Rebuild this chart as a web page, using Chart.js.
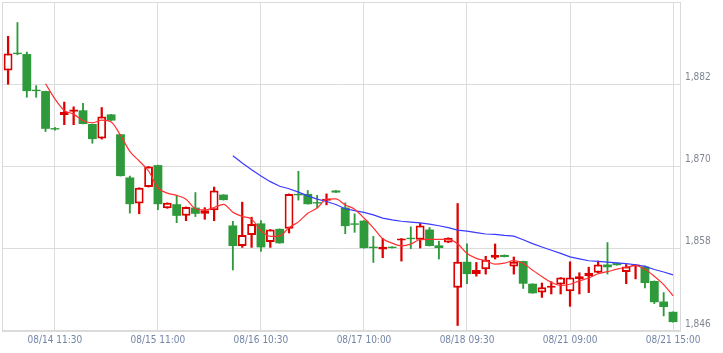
<!DOCTYPE html>
<html>
<head>
<meta charset="utf-8">
<script src="https://cdn.jsdelivr.net/npm/chart.js@4.4.1/dist/chart.umd.min.js"></script>
<style>
  html, body { margin: 0; padding: 0; background: #fff; }
</style>
</head>
<body>
<canvas id="stockChart" width="723" height="353"></canvas>
<script>
// 30分足 (6営業日 x 12本)
const days = ['08/14', '08/15', '08/16', '08/17', '08/18', '08/21'];
const slots = ['09:00', '09:30', '10:00', '10:30', '11:00', '11:30', '12:30', '13:00', '13:30', '14:00', '14:30', '15:00'];
const tickLabels = ['08/14 11:30', '08/15 11:00', '08/16 10:30', '08/17 10:00', '08/18 09:30', '08/21 09:00', '08/21 15:00'];
const yTicks = [1846, 1858, 1870, 1882, 1894];

const opens = [1884.0, 1886.6, 1886.4, 1881.2, 1881.0, 1875.6, 1877.5, 1878.0, 1878.2, 1876.2, 1874.1, 1877.6,
  1874.7, 1868.4, 1864.6, 1867.0, 1870.2, 1863.9, 1864.5, 1862.8, 1864.0, 1863.1, 1863.6, 1865.9,
  1861.4, 1858.4, 1860.0, 1861.7, 1859.0, 1860.9, 1860.9, 1866.0, 1866.0, 1864.8, 1865.0, 1866.5,
  1864.0, 1861.7, 1862.1, 1858.3, 1857.9, 1858.3, 1859.2, 1859.6, 1859.3, 1860.8, 1858.5, 1858.9,
  1852.3, 1856.1, 1854.3, 1855.0, 1856.7, 1857.1, 1855.4, 1856.2, 1852.9, 1851.6, 1852.3, 1852.8,
  1851.8, 1853.6, 1854.0, 1854.5, 1855.7, 1855.9, 1854.6, 1855.5, 1855.4, 1853.3, 1850.3, 1848.8];
const highs = [1889.0, 1891.0, 1886.7, 1881.8, 1881.0, 1875.7, 1879.4, 1878.7, 1879.2, 1876.2, 1878.6, 1877.6,
  1874.7, 1868.6, 1866.9, 1870.0, 1870.2, 1864.7, 1865.8, 1864.1, 1866.2, 1864.0, 1867.0, 1865.9,
  1862.0, 1864.8, 1862.6, 1862.1, 1860.8, 1860.9, 1866.0, 1869.3, 1866.5, 1865.8, 1866.0, 1866.5,
  1864.7, 1863.1, 1862.1, 1859.8, 1859.5, 1858.3, 1859.5, 1861.2, 1861.7, 1861.1, 1859.1, 1859.6,
  1864.6, 1858.7, 1856.0, 1856.9, 1858.7, 1857.1, 1856.8, 1856.2, 1852.9, 1853.0, 1853.2, 1853.8,
  1856.1, 1854.5, 1855.3, 1856.2, 1858.9, 1855.9, 1855.7, 1855.7, 1855.5, 1853.3, 1851.6, 1848.8];
const lows = [1882.0, 1886.3, 1880.1, 1880.1, 1875.1, 1875.3, 1876.1, 1876.1, 1876.2, 1873.4, 1874.0, 1876.7,
  1868.6, 1863.2, 1863.1, 1867.0, 1863.7, 1863.9, 1861.8, 1862.1, 1862.7, 1862.3, 1862.1, 1865.1,
  1854.9, 1858.2, 1858.2, 1857.6, 1858.2, 1858.8, 1860.3, 1865.1, 1864.5, 1864.0, 1864.4, 1866.2,
  1860.2, 1860.4, 1858.1, 1856.0, 1856.7, 1858.1, 1856.2, 1858.0, 1858.1, 1858.4, 1856.5, 1858.9,
  1846.8, 1852.9, 1854.0, 1854.3, 1856.5, 1856.8, 1854.3, 1852.2, 1851.5, 1850.9, 1851.4, 1851.4,
  1849.6, 1851.4, 1851.6, 1854.5, 1854.3, 1855.6, 1852.9, 1853.6, 1852.3, 1850.0, 1848.2, 1847.3];
const closes = [1886.5, 1886.4, 1881.0, 1881.0, 1875.5, 1875.4, 1878.0, 1878.3, 1876.2, 1874.0, 1877.3, 1876.7,
  1868.6, 1864.5, 1866.9, 1870.0, 1864.5, 1864.7, 1862.8, 1864.1, 1863.1, 1863.6, 1866.5, 1865.1,
  1858.4, 1860.0, 1861.6, 1858.2, 1860.8, 1858.8, 1866.0, 1865.8, 1864.5, 1864.6, 1865.3, 1866.2,
  1861.3, 1861.5, 1858.1, 1858.1, 1858.3, 1858.1, 1859.5, 1859.4, 1861.4, 1858.4, 1858.1, 1859.6,
  1856.1, 1854.3, 1854.9, 1856.4, 1857.1, 1856.8, 1856.1, 1852.9, 1851.5, 1852.4, 1852.6, 1853.8,
  1853.8, 1854.0, 1854.5, 1855.7, 1855.3, 1855.6, 1855.4, 1855.7, 1853.0, 1850.2, 1849.5, 1847.3];

// 移動平均 (5本 / 25本), 先頭は値なし
const ma5 = [null, null, null, null, 1882.08, 1879.86, 1878.18, 1877.64, 1876.68, 1876.38, 1876.76, 1876.50,
  1874.56, 1872.22, 1870.80, 1869.34, 1866.90, 1866.12, 1865.78, 1865.22, 1863.84, 1863.66, 1864.02, 1864.48,
  1863.34, 1862.72, 1862.32, 1860.66, 1859.80, 1859.88, 1861.08, 1861.92, 1863.18, 1863.94, 1865.24, 1865.28,
  1864.38, 1863.78, 1862.48, 1861.04, 1859.46, 1858.82, 1858.42, 1858.68, 1859.34, 1859.36, 1859.36, 1859.38,
  1858.72, 1857.30, 1856.60, 1856.26, 1855.76, 1855.90, 1856.26, 1855.86, 1854.88, 1853.94, 1853.10, 1852.64,
  1852.82, 1853.32, 1853.74, 1854.36, 1854.66, 1855.02, 1855.30, 1855.54, 1855.00, 1853.98, 1852.76, 1851.14];
const ma25 = [null, null, null, null, null, null, null, null, null, null, null, null,
  null, null, null, null, null, null, null, null, null, null, null, null,
  1871.56, 1870.50, 1869.51, 1868.60, 1867.79, 1867.12, 1866.75, 1866.26, 1865.71, 1865.24, 1864.90, 1864.45,
  1863.84, 1863.55, 1863.30, 1862.94, 1862.48, 1862.22, 1862.01, 1861.88, 1861.77, 1861.58, 1861.36, 1861.08,
  1860.72, 1860.56, 1860.36, 1860.15, 1860.10, 1859.94, 1859.84, 1859.31, 1858.74, 1858.26, 1857.78, 1857.32,
  1856.82, 1856.53, 1856.25, 1856.15, 1856.04, 1855.93, 1855.82, 1855.67, 1855.42, 1854.97, 1854.61, 1854.18];

const categories = [];
days.forEach(d => slots.forEach(s => categories.push(d + ' ' + s)));
const tickIndex = tickLabels.map(l => categories.indexOf(l));

const UP = '#dd0000';
const DOWN = '#2f9a3b';
const isUp = i => closes[i] > opens[i];

const bodyData = opens.map((o, i) => ({ x: i, y: [o, closes[i]] }));
const upWicks = [], downWicks = [];
highs.forEach((h, i) => (isUp(i) ? upWicks : downWicks).push({ x: i, y: [lows[i], h] }));
const linePoints = arr => arr.map((v, i) => v === null ? null : { x: i, y: v }).filter(p => p);

// 枠線
const framePlugin = {
    id: 'frame',
    beforeDatasetsDraw(chart) {
        const { ctx, chartArea: a } = chart;
        ctx.save();
        ctx.strokeStyle = '#d9d9d9';
        ctx.lineWidth = 1;
        ctx.strokeRect(Math.round(a.left) + 0.5, Math.round(a.top) + 0.5,
            Math.round(a.right - a.left) - 1, Math.round(a.bottom - a.top) - 1);
        ctx.restore();
    }
};

const ctx = document.getElementById('stockChart').getContext('2d');
new Chart(ctx, {
    type: 'bar',
    data: {
        datasets: [
            {
                type: 'line', label: 'MA5', data: linePoints(ma5),
                borderColor: '#ff3030', borderWidth: 1.2, pointRadius: 0,
                cubicInterpolationMode: 'monotone', order: 0
            },
            {
                type: 'line', label: 'MA25', data: linePoints(ma25),
                borderColor: '#3a3aff', borderWidth: 1.2, pointRadius: 0,
                tension: 0, order: 0
            },
            {
                label: 'body', data: bodyData, grouped: false,
                backgroundColor: c => isUp(c.dataIndex) ? '#ffffff' : DOWN,
                borderColor: c => isUp(c.dataIndex) ? UP : DOWN,
                borderWidth: c => isUp(c.dataIndex) ? 2 : 0,
                borderSkipped: false,
                barPercentage: 0.94, categoryPercentage: 1, order: 1
            },
            {
                label: 'wickUp', data: upWicks, grouped: false,
                backgroundColor: UP, barThickness: 1.6, order: 2
            },
            {
                label: 'wickDown', data: downWicks, grouped: false,
                backgroundColor: DOWN, barThickness: 1.2, order: 2
            }
        ]
    },
    options: {
        responsive: false,
        animation: false,
        events: [],
        layout: { padding: { top: 2, left: 2, right: 0, bottom: 0 } },
        plugins: { legend: { display: false }, tooltip: { enabled: false } },
        scales: {
            x: {
                type: 'linear',
                min: -0.65,
                max: 71.85,
                offset: false,
                afterBuildTicks: scale => { scale.ticks = tickIndex.map(v => ({ value: v })); },
                afterFit: scale => { scale.height = 22; scale.paddingLeft = 0; scale.paddingRight = 0; },
                grid: { color: '#dcdcdc', drawTicks: false, offset: false },
                border: { display: false },
                ticks: {
                    padding: 3,
                    maxRotation: 0,
                    autoSkip: false,
                    color: '#7385a6',
                    font: { family: "'DejaVu Sans Condensed', 'Liberation Sans', sans-serif", size: 10 },
                    callback: v => categories[v]
                }
            },
            y: {
                position: 'right',
                min: 1846,
                max: 1894,
                afterBuildTicks: scale => { scale.ticks = yTicks.map(v => ({ value: v })); },
                afterFit: scale => { scale.width = 42; scale.paddingTop = 0; scale.paddingBottom = 0; },
                grid: { color: '#dcdcdc', drawTicks: false },
                border: { display: false },
                ticks: {
                    padding: 4,
                    labelOffset: -7,
                    color: '#7f8591',
                    font: { family: "'DejaVu Sans Condensed', 'Liberation Sans', sans-serif", size: 10 },
                    callback: v => v === 1894 ? '' : v.toLocaleString('en-US')
                }
            }
        }
    },
    plugins: [framePlugin]
});
</script>
</body>
</html>
